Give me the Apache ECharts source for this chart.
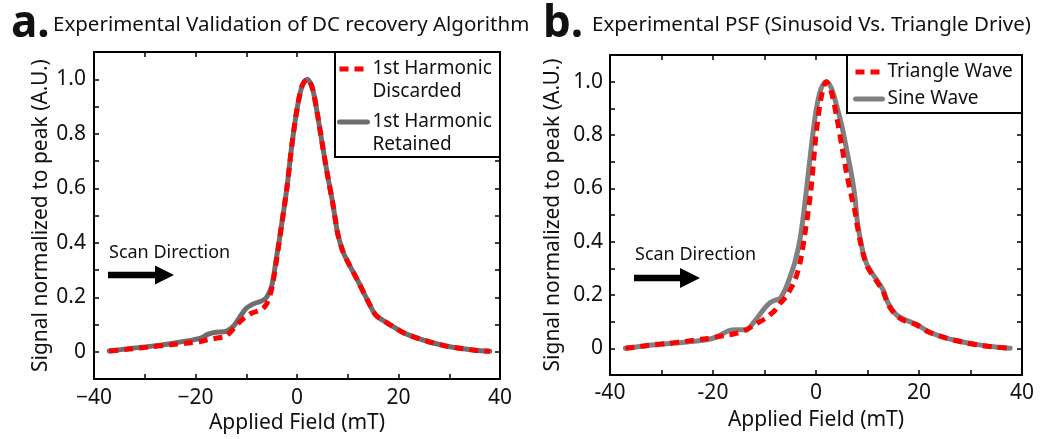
<!DOCTYPE html>
<html><head><meta charset="utf-8">
<script src="https://cdn.jsdelivr.net/npm/echarts@6/dist/echarts.min.js"></script>
<style>html,body{margin:0;padding:0;background:#fff}#c{width:1048px;height:439px}</style>
</head><body><div id="c"></div>
<script>
const FONT = '"Noto Sans", "Open Sans", sans-serif';

// tick labels
const xTickLabels = [-40, -20, 0, 20, 40];
const yTickLabels = [0, 0.2, 0.4, 0.6, 0.8, 1.0];

// panel a: DC recovery validation
const aX = [-37,-33,-29,-25,-21,-19,-17.5,-16,-14,-12.5,-11,-10,-9,-8,-7,-6,-5,-4,-3,-2,-1,0,1,2,3,4,5,6,7,7.6,8,9,10,12,14,15.5,17,19,21,23,26,29,32,35,38];
const aRetained = [0.003,0.012,0.02,0.03,0.042,0.05,0.065,0.072,0.075,0.095,0.135,0.16,0.172,0.18,0.186,0.2,0.24,0.35,0.47,0.6,0.76,0.89,0.975,1.0,0.97,0.875,0.76,0.65,0.55,0.48,0.435,0.37,0.33,0.26,0.185,0.135,0.115,0.092,0.07,0.055,0.037,0.023,0.013,0.006,0.002];
const aDiscarded = [0.003,0.01,0.018,0.026,0.033,0.038,0.045,0.05,0.058,0.085,0.115,0.13,0.142,0.148,0.155,0.175,0.23,0.34,0.47,0.6,0.76,0.89,0.975,1.0,0.97,0.875,0.76,0.65,0.55,0.48,0.435,0.37,0.33,0.26,0.185,0.135,0.115,0.092,0.07,0.055,0.037,0.023,0.013,0.006,0.002];

// panel b: sinusoid vs triangle drive
const bX = [-37,-33,-29,-25,-21,-19,-17,-15.5,-13.5,-12,-10,-9,-8,-7,-6,-5,-4,-3,-2,-1,0,1,2,3,4,5,6,7,7.6,8,8.6,9.2,10,12,13,14,15.5,17,19.5,22,25,28.5,32,35,37.7];
const bSine = [0.0,0.01,0.017,0.024,0.033,0.045,0.066,0.07,0.07,0.1,0.15,0.17,0.18,0.187,0.22,0.27,0.33,0.42,0.57,0.74,0.89,0.975,1.0,0.975,0.91,0.835,0.74,0.64,0.56,0.48,0.41,0.355,0.31,0.25,0.22,0.17,0.128,0.11,0.09,0.061,0.04,0.024,0.012,0.005,0.0];
const bTriangle = [0.0,0.01,0.018,0.027,0.037,0.044,0.05,0.056,0.07,0.088,0.11,0.125,0.142,0.168,0.19,0.22,0.26,0.33,0.45,0.59,0.8,0.94,1.0,0.96,0.87,0.76,0.65,0.56,0.51,0.46,0.4,0.35,0.305,0.245,0.215,0.165,0.125,0.105,0.088,0.06,0.04,0.023,0.011,0.004,0.0];

const zip = (xs, ys) => xs.map((x, i) => [x, ys[i]]);
const TXT = '#111';

function xAxes(g, minus, nameGap) {
  return [{
    type: 'value', gridIndex: g, min: -40, max: 40, interval: 10, position: 'bottom',
    axisLine: {show: true, onZero: false, lineStyle: {color: '#000', width: 2}},
    axisTick: {show: true, inside: true, length: 5, lineStyle: {color: '#000', width: 1.5}},
    axisLabel: {customValues: xTickLabels, margin: 8, fontSize: 21, color: TXT, fontFamily: FONT,
      formatter: v => (v < 0 ? minus + Math.abs(v) : String(v))},
    splitLine: {show: false},
    name: 'Applied Field (mT)', nameLocation: 'middle', nameGap: nameGap,
    nameTextStyle: {fontSize: 21, color: TXT, fontFamily: FONT}
  }, {
    type: 'value', gridIndex: g, min: -40, max: 40, interval: 10, position: 'top',
    axisLine: {show: true, onZero: false, lineStyle: {color: '#000', width: 2}},
    axisTick: {show: true, inside: true, length: 5, lineStyle: {color: '#000', width: 1.5}},
    axisLabel: {show: false}, splitLine: {show: false}
  }];
}
function yAxes(g, nameGap, margin) {
  return [{
    type: 'value', gridIndex: g, min: -0.1, max: 1.1, interval: 0.1, position: 'left',
    axisLine: {show: true, onZero: false, lineStyle: {color: '#000', width: 2}},
    axisTick: {show: true, inside: true, length: 5, lineStyle: {color: '#000', width: 1.5}},
    axisLabel: {customValues: yTickLabels, margin: margin, fontSize: 21, color: TXT, fontFamily: FONT,
      formatter: v => (Math.abs(v) < 1e-9 ? '0' : v.toFixed(1))},
    splitLine: {show: false},
    name: 'Signal normalized to peak (A.U.)', nameLocation: 'middle', nameGap: nameGap,
    nameTextStyle: {fontSize: 21, color: TXT, fontFamily: FONT}
  }, {
    type: 'value', gridIndex: g, min: -0.1, max: 1.1, interval: 0.1, position: 'right',
    axisLine: {show: true, onZero: false, lineStyle: {color: '#000', width: 2}},
    axisTick: {show: true, inside: true, length: 5, lineStyle: {color: '#000', width: 1.5}},
    axisLabel: {show: false}, splitLine: {show: false}
  }];
}

const grayA = {color: '#6e6e6e', width: 5, cap: 'round', join: 'round'};
const grayB = {color: '#808080', width: 5, cap: 'round', join: 'round'};
const red = {color: '#ff0000', width: 5, type: [9, 6], cap: 'butt', join: 'round'};

function arrow(x0, xHeadStart, x1, yc, shaftH, headH) {
  return [
    {type: 'rect', shape: {x: x0, y: yc - shaftH / 2, width: xHeadStart - x0 + 1, height: shaftH}, style: {fill: '#000'}},
    {type: 'polygon', shape: {points: [[xHeadStart, yc - headH / 2], [x1, yc], [xHeadStart, yc + headH / 2]]}, style: {fill: '#000'}}
  ];
}

const option = {
  animation: false,
  backgroundColor: '#fff',
  title: [
    {text: 'a.', left: 11, top: 2, padding: 0, textStyle: {fontSize: 44, fontWeight: 'bold', color: TXT, fontFamily: FONT}},
    {text: 'Experimental Validation of DC recovery Algorithm', left: 53, top: 15, padding: 0, textStyle: {fontSize: 20.5, fontWeight: 'normal', color: TXT, fontFamily: FONT}},
    {text: 'b.', left: 543, top: 2, padding: 0, textStyle: {fontSize: 44, fontWeight: 'bold', color: TXT, fontFamily: FONT}},
    {text: 'Experimental PSF (Sinusoid Vs. Triangle Drive)', left: 592, top: 15, padding: 0, textStyle: {fontSize: 20.5, fontWeight: 'normal', color: TXT, fontFamily: FONT}}
  ],
  grid: [
    {left: 94, top: 52, width: 406, height: 329, containLabel: false},
    {left: 610, top: 55, width: 412, height: 320, containLabel: false}
  ],
  xAxis: [...xAxes(0, '\u2212', 32), ...xAxes(1, '-', 35)],
  yAxis: [...yAxes(0, 42, 8), ...yAxes(1, 46, 7)],
  legend: [
    {left: 337, top: 34.5, orient: 'vertical', padding: 0, itemWidth: 28, itemHeight: 12, itemGap: -16,
      selectedMode: false, z: 10, itemStyle: {opacity: 0}, lineStyle: {width: 5},
      data: ['1st Harmonic Discarded', '1st Harmonic Retained'],
      formatter: n => '\n' + n.replace(' Discarded', '\nDiscarded').replace(' Retained', '\nRetained'),
      textStyle: {fontSize: 19, lineHeight: 23, color: TXT, fontFamily: FONT}},
    {left: 853, top: 60.5, orient: 'vertical', padding: 0, itemWidth: 27, itemHeight: 12, itemGap: 4,
      selectedMode: false, z: 10, itemStyle: {opacity: 0}, lineStyle: {width: 5},
      data: ['Triangle Wave', 'Sine Wave'],
      textStyle: {fontSize: 19, lineHeight: 23, color: TXT, fontFamily: FONT}}
  ],
  graphic: [
    {type: 'rect', z: 5, shape: {x: 335, y: 52, width: 165, height: 105}, style: {fill: '#fff', stroke: '#000', lineWidth: 2}},
    {type: 'rect', z: 5, shape: {x: 847, y: 55, width: 175, height: 58}, style: {fill: '#fff', stroke: '#000', lineWidth: 2}},
    {type: 'text', x: 109, y: 253, style: {text: 'Scan Direction', fontSize: 18, fontFamily: FONT, fill: TXT, verticalAlign: 'middle'}},
    {type: 'text', x: 635, y: 255, style: {text: 'Scan Direction', fontSize: 18, fontFamily: FONT, fill: TXT, verticalAlign: 'middle'}},
    ...arrow(108, 155, 174, 275, 6.5, 19),
    ...arrow(634, 680, 700, 278, 6.5, 20)
  ],
  series: [
    {name: '1st Harmonic Retained', type: 'line', xAxisIndex: 0, yAxisIndex: 0, data: zip(aX, aRetained),
      showSymbol: false, symbol: 'none', smooth: 0.3, lineStyle: grayA, itemStyle: {color: grayA.color}, z: 2},
    {name: '1st Harmonic Discarded', type: 'line', xAxisIndex: 0, yAxisIndex: 0, data: zip(aX, aDiscarded),
      showSymbol: false, symbol: 'none', smooth: 0.3, lineStyle: red, itemStyle: {color: red.color}, z: 3},
    {name: 'Sine Wave', type: 'line', xAxisIndex: 2, yAxisIndex: 2, data: zip(bX, bSine),
      showSymbol: false, symbol: 'none', smooth: 0.3, lineStyle: grayB, itemStyle: {color: grayB.color}, z: 2},
    {name: 'Triangle Wave', type: 'line', xAxisIndex: 2, yAxisIndex: 2, data: zip(bX, bTriangle),
      showSymbol: false, symbol: 'none', smooth: 0.3, lineStyle: red, itemStyle: {color: red.color}, z: 3}
  ]
};
const chart = echarts.init(document.getElementById('c'), null, {renderer: 'canvas'});
chart.setOption(option);
</script></body></html>
